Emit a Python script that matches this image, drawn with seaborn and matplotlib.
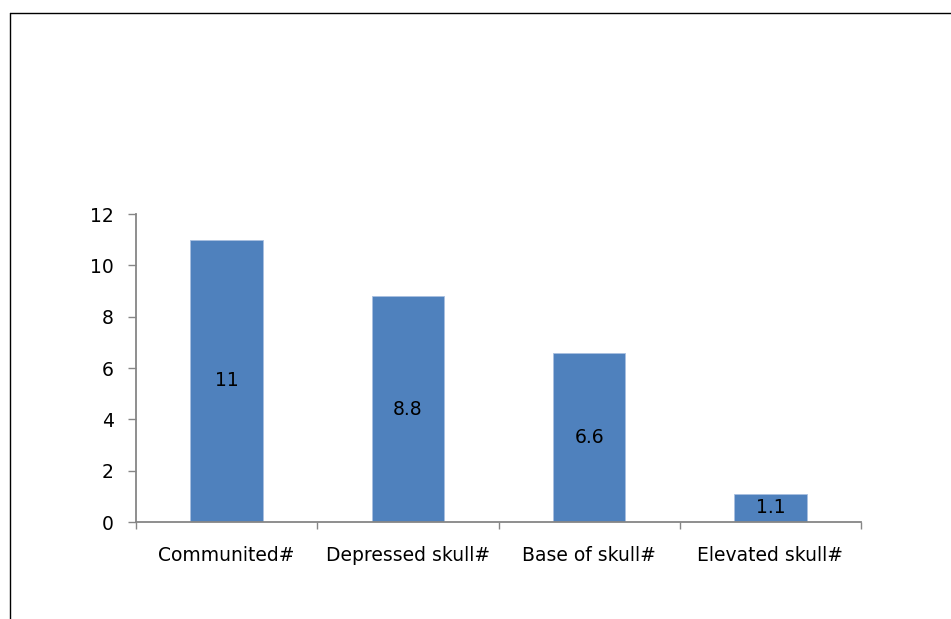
import matplotlib
matplotlib.use("Agg")
import matplotlib.pyplot as plt
import seaborn as sns
import pandas as pd
from matplotlib.lines import Line2D

categories = ["Communited#", "Depressed skull#", "Base of skull#", "Elevated skull#"]
values = [11, 8.8, 6.6, 1.1]
value_labels = ["11", "8.8", "6.6", "1.1"]
yticks = [0, 2, 4, 6, 8, 10, 12]

sns.set_theme(style="white")
plt.rcParams['font.family'] = ['DejaVu Sans']
plt.rcParams['text.color'] = 'black'
plt.rcParams['xtick.labelcolor'] = 'black'
plt.rcParams['ytick.labelcolor'] = 'black'

fig = plt.figure(figsize=(9.51, 6.19), dpi=100)
W, H = 951, 619
ax = fig.add_axes([136 / W, 1 - 522 / H, (861 - 136) / W, (522 - 214) / H])

df = pd.DataFrame({"category": categories, "value": values})
sns.barplot(data=df, x="category", y="value", color="#4F81BD", saturation=1,
            width=0.4, edgecolor="#A9C0E0", linewidth=0.6, ax=ax)

# value labels in the middle of each bar
for i, (v, lab) in enumerate(zip(values, value_labels)):
    ax.text(i, v / 2, lab, ha="center", va="center", fontsize=13.5, color="black")

axis_color = "#868686"
ax.set_xlim(-0.5, 3.5)
ax.set_ylim(0, 12)
ax.set_yticks(yticks)
ax.set_yticklabels([str(t) for t in yticks], fontsize=13.5)
ax.set_xticks(range(len(categories)))
ax.set_xticklabels(categories, fontsize=13.5)
ax.set_xticks([i - 0.5 for i in range(len(categories) + 1)], minor=True)
ax.tick_params(axis="x", which="major", length=0, pad=17)
ax.tick_params(axis="x", which="minor", length=5, width=1, color=axis_color, direction="out", bottom=True)
ax.tick_params(axis="y", which="major", length=6, width=1, color=axis_color, direction="out", left=True, pad=10)
ax.set_xlabel("")
ax.set_ylabel("")
for side in ["top", "right"]:
    ax.spines[side].set_visible(False)
for side in ["left", "bottom"]:
    ax.spines[side].set_color(axis_color)
    ax.spines[side].set_linewidth(1.3)

# outer frame (partly cut off at right and bottom)
fig.add_artist(Line2D([10 / W, 10 / W], [0, 1 - 13 / H], color="black", lw=1, transform=fig.transFigure))
fig.add_artist(Line2D([10 / W, 1], [1 - 13 / H, 1 - 13 / H], color="black", lw=1, transform=fig.transFigure))

fig.savefig("out.png", dpi=100)
